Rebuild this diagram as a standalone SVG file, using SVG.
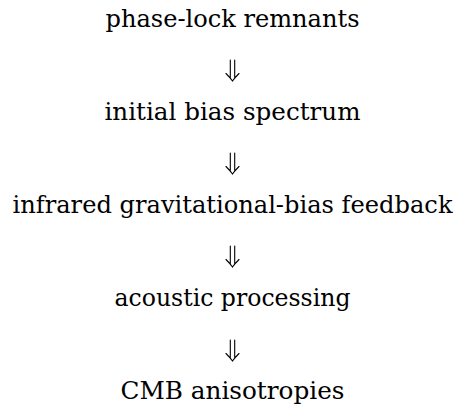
<svg xmlns="http://www.w3.org/2000/svg" xmlns:xlink="http://www.w3.org/1999/xlink" width="465" height="410" viewBox="0 0 465 410">
<style>
text{font-family:"DejaVu Serif",serif;font-size:24.5px;fill:#000;text-anchor:middle}
.a{fill:none;stroke:#000;stroke-width:1.1;stroke-linecap:round}
</style>
<defs>
<path id="dar" class="a" d="M-2.2,-21 V-3.5 M2.2,-21 V-3.5 M-6.5,-7.5 Q-2.5,-3.5 0,0 Q2.5,-3.5 6.5,-7.5"/>
</defs>
<rect width="465" height="410" fill="#fff"/>
<g id="n1"><text x="232.5" y="27" textLength="254" lengthAdjust="spacingAndGlyphs">phase-lock remnants</text></g>
<g id="n2"><text x="232.5" y="120" textLength="256" lengthAdjust="spacingAndGlyphs">initial bias spectrum</text></g>
<g id="n3"><text x="232.5" y="213" textLength="440" lengthAdjust="spacingAndGlyphs">infrared gravitational-bias feedback</text></g>
<g id="n4"><text x="232.5" y="306" textLength="236" lengthAdjust="spacingAndGlyphs">acoustic processing</text></g>
<g id="n5"><text x="232.5" y="399" textLength="224" lengthAdjust="spacingAndGlyphs">CMB anisotropies</text></g>
<g id="connectors">
<use xlink:href="#dar" x="232.5" y="81"/>
<use xlink:href="#dar" x="232.5" y="174"/>
<use xlink:href="#dar" x="232.5" y="267"/>
<use xlink:href="#dar" x="232.5" y="361"/>
</g>
</svg>
